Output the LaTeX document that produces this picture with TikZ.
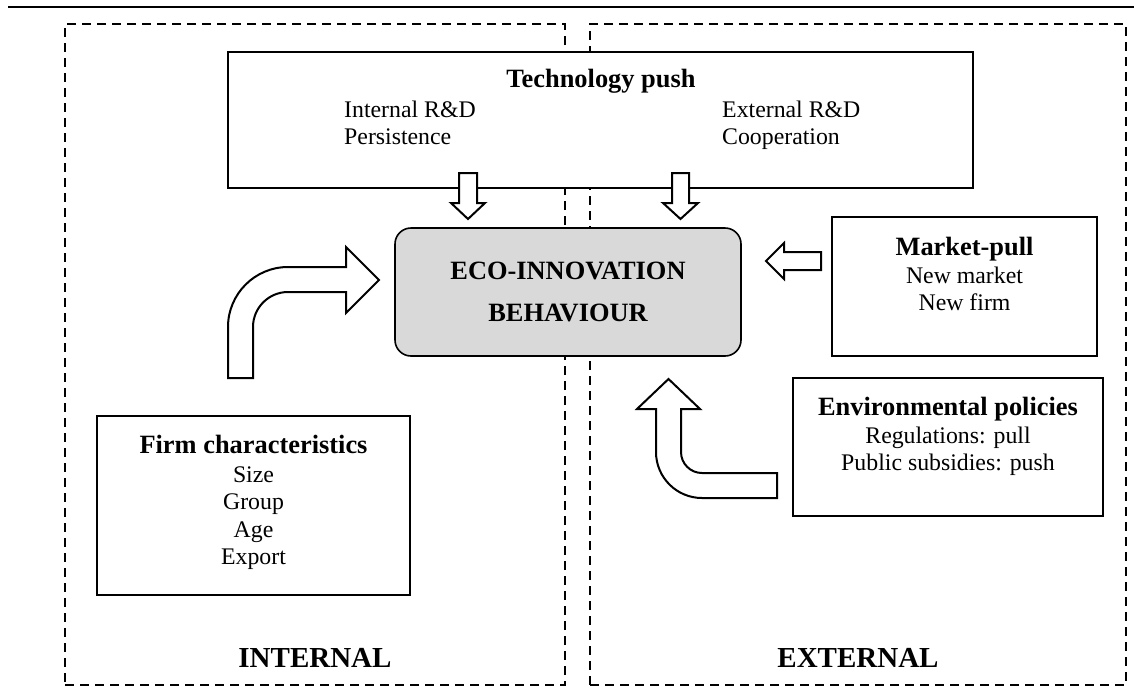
\documentclass[tikz,border=0pt]{standalone}
\usepackage{fontspec}
\setmainfont{Liberation Serif}
\begin{document}
\begin{tikzpicture}[x=1pt,y=-1pt,
  dashbox/.style={draw, line width=2.2pt, dash pattern=on 9pt off 6pt, inner sep=0pt},
  box/.style={draw, line width=2.6pt, fill=white, inner sep=0pt},
  ecobox/.style={draw, line width=1.6pt, fill=ecogray, rounded corners=16pt, inner sep=0pt},
  blockarrow/.style={draw, line width=2pt, fill=white, line join=miter},
  reg/.style={font=\fontsize{23.8}{27}\selectfont, inner sep=0pt, anchor=base},
  ttl/.style={font=\fontsize{26.4}{30}\selectfont\bfseries, inner sep=0pt, anchor=base},
  big/.style={font=\fontsize{29}{33}\selectfont\bfseries, inner sep=0pt, anchor=base}]
\definecolor{ecogray}{HTML}{D9D9D9}
\useasboundingbox (0,0) rectangle (1134,697);

% top rule
\coordinate (ruleL) at (8,7);
\coordinate (ruleR) at (1134,7);
\draw[line width=2.6pt] (ruleL) -- (ruleR);

% internal / external regions
\node[dashbox, minimum width=500pt, minimum height=661pt] (internal) at (315,354.5) {};
\node[dashbox, minimum width=536pt, minimum height=661pt] (external) at (858,354.5) {};

% boxes
\node[box, minimum width=745pt, minimum height=136pt] (tech) at (600.5,120) {};
\node[ecobox, minimum width=346pt, minimum height=128pt] (eco) at (568,292) {};
\node[box, minimum width=265pt, minimum height=139pt] (market) at (964.5,286.5) {};
\node[box, minimum width=310pt, minimum height=138pt] (env) at (948,447) {};
\node[box, minimum width=313pt, minimum height=179pt] (firm) at (253.5,505.5) {};

% texts: technology push
\node[ttl] (techT) at (601,87) {Technology push};
\node[reg, anchor=base west] (tech1) at (344,117) {Internal R\&D};
\node[reg, anchor=base west] (tech2) at (344,144.5) {Persistence};
\node[reg, anchor=base west] (tech3) at (722,117) {External R\&D};
\node[reg, anchor=base west] (tech4) at (722,144.5) {Cooperation};

% eco-innovation
\node[ttl] (ecoA) at (568,279) {ECO-INNOVATION};
\node[ttl] (ecoB) at (568,321) {BEHAVIOUR};

% market pull
\node[ttl] (marketT) at (964.5,255) {Market-pull};
\node[reg] (market1) at (964.5,283.5) {New market};
\node[reg] (market2) at (964.5,310.5) {New firm};

% environmental policies
\node[ttl] (envT) at (948,415) {Environmental policies};
\node[reg] (env1) at (948,443.5) {Regulations: pull};
\node[reg] (env2) at (948,470.5) {Public subsidies: push};

% firm characteristics
\node[ttl] (firmT) at (253.5,453) {Firm characteristics};
\node[reg] (firm1) at (253.5,482.5) {Size};
\node[reg] (firm2) at (253.5,509.5) {Group};
\node[reg] (firm3) at (253.5,537) {Age};
\node[reg] (firm4) at (253.5,564.5) {Export};

% region labels
\node[big] (intL) at (315,667) {INTERNAL};
\node[big] (extL) at (858,667) {EXTERNAL};

% down arrows from technology push
\draw[blockarrow] (459,173) -- (477,173) -- (477,203) -- (485,203) -- (468,219)
  -- (451,203) -- (459,203) -- cycle;
\draw[blockarrow] (672,173) -- (689,173) -- (689,203) -- (698,203) -- (680.5,219)
  -- (663,203) -- (672,203) -- cycle;

% market-pull arrow
\draw[blockarrow] (821,252) -- (784,252) -- (784,243) -- (766,261) -- (784,279)
  -- (784,270) -- (821,270) -- cycle;

% firm characteristics curved arrow
\draw[blockarrow] (228,378) -- (228,327) .. controls (228,293.9) and (254.9,267) .. (288,267)
  -- (346,267) -- (346,247) -- (379,280) -- (346,313) -- (346,292) -- (288,292)
  .. controls (268.7,292) and (253,307.7) .. (253,327) -- (253,378) -- cycle;

% environmental policies curved arrow
\draw[blockarrow] (777,498) -- (702,498) .. controls (676.6,498) and (656,477.4) .. (656,452)
  -- (656,409) -- (637,409) -- (668.5,379) -- (700,409) -- (681,409) -- (681,452)
  .. controls (681,463.6) and (690.4,473) .. (702,473) -- (777,473) -- cycle;
\end{tikzpicture}
\end{document}
